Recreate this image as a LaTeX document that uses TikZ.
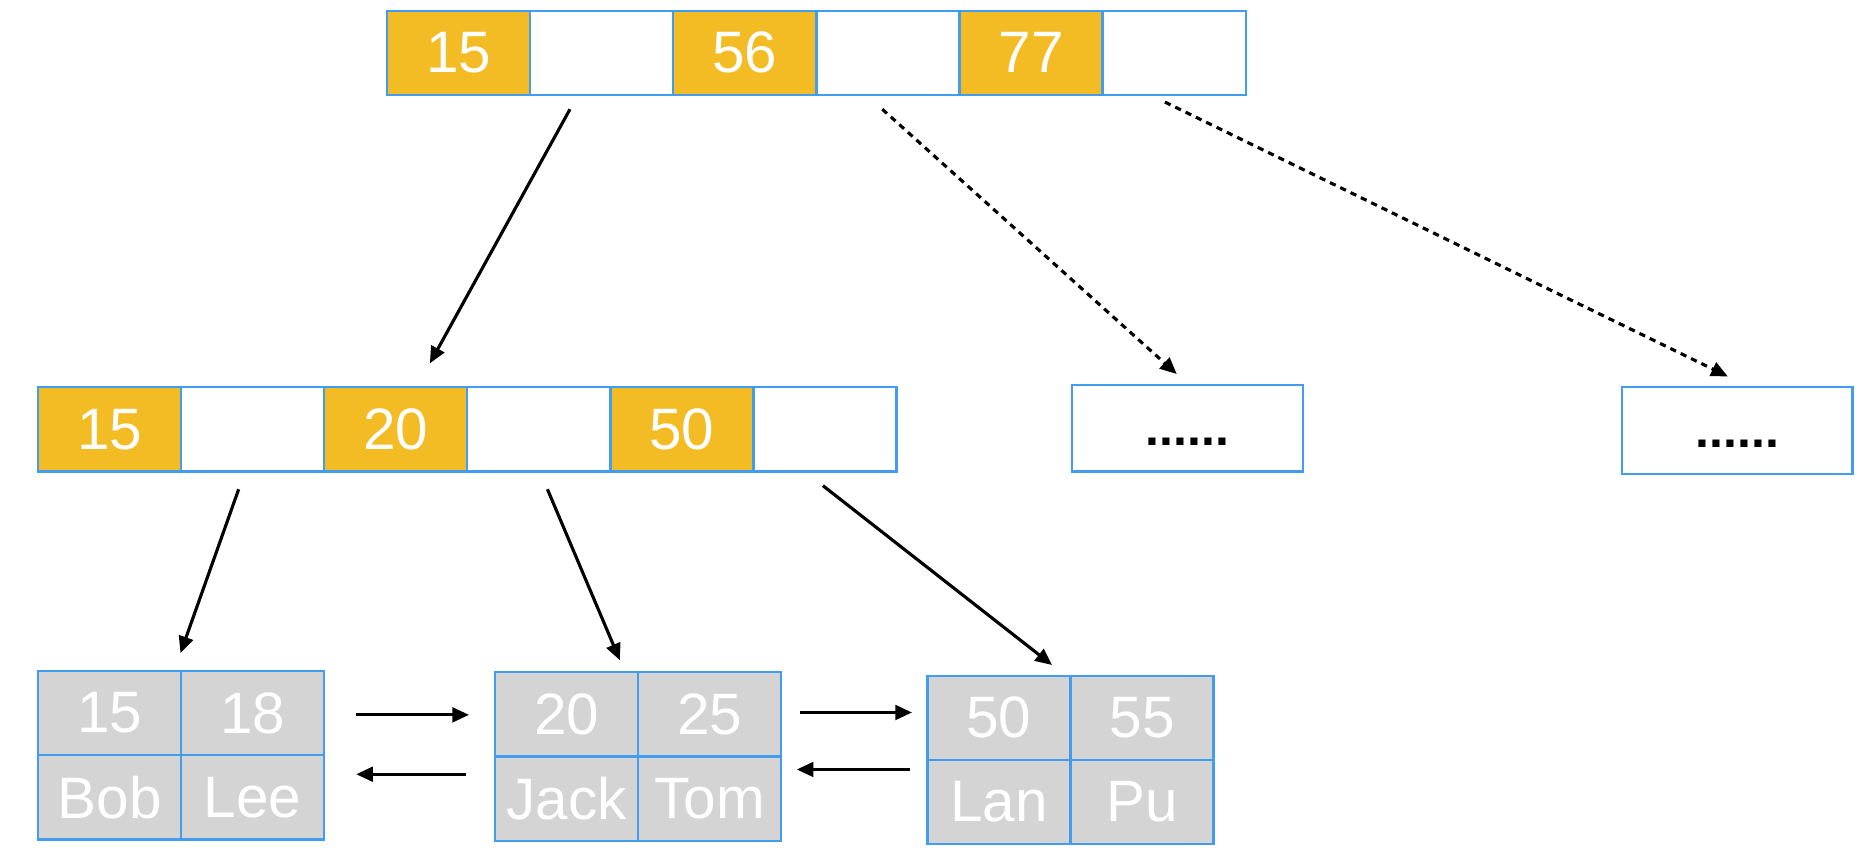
\documentclass[tikz,border=0pt]{standalone}
\usepackage{fontspec}
\setmainfont{Liberation Sans}
\usetikzlibrary{arrows.meta,positioning}

\definecolor{keyorange}{RGB}{243,188,36}
\definecolor{cellblue}{RGB}{66,157,240}
\definecolor{leafgray}{RGB}{212,212,212}

\tikzset{
    cell/.style={draw=cellblue, line width=1.1pt, minimum width=2.41cm, minimum height=1.42cm,
        inner sep=0pt, outer sep=0pt, text=white, font=\fontsize{28}{30}\selectfont},
    keycell/.style={cell, fill=keyorange},
    ptrcell/.style={cell, fill=white},
    leafcell/.style={cell, fill=leafgray},
    leafbox/.style={minimum width=4.82cm, minimum height=2.84cm, inner sep=0pt, outer sep=0pt},
    morebox/.style={draw=cellblue, line width=1.1pt, minimum width=3.88cm, minimum height=1.46cm,
        inner sep=0pt, outer sep=0pt, font=\fontsize{24}{26}\selectfont\bfseries},
    link/.style={line width=1.5pt, -{Triangle[length=8pt,width=7pt]}},
    maybe/.style={link, dash pattern=on 3pt off 2.5pt}
}

\begin{document}
\begin{tikzpicture}[x=0.02cm, y=-0.02cm]
    \useasboundingbox (0,0) rectangle (1568,726);

    % Root node
    \foreach \i/\t/\s in {1/15/keycell, 2/{}/ptrcell, 3/56/keycell, 4/{}/ptrcell, 5/77/keycell, 6/{}/ptrcell}
        \node[\s, anchor=north west] (root\i) at ({326+120.5*(\i-1)},9) {\t};

    % Inner node
    \foreach \i/\t/\s in {1/15/keycell, 2/{}/ptrcell, 3/20/keycell, 4/{}/ptrcell, 5/50/keycell, 6/{}/ptrcell}
        \node[\s, anchor=north west] (mid\i) at ({32+120.5*(\i-1)},326) {\t};

    % Other inner nodes
    \node[morebox, anchor=north west] (more1) at (903,324) {\vphantom{0}......};
    \node[morebox, anchor=north west] (more2) at (1366,326) {\vphantom{0}......};

    % Leaves
    \foreach \n/\x/\y/\a/\b/\c/\d in {A/32/565/15/18/Bob/Lee, B/417/566/20/25/Jack/Tom, C/781/569/50/55/Lan/Pu} {
        \node[leafbox, anchor=north west] (leaf\n) at (\x,\y) {};
        \node[leafcell, anchor=north west] (leaf\n-k1) at (leaf\n.north west) {\a};
        \node[leafcell, anchor=north west] (leaf\n-k2) at (leaf\n-k1.north east) {\b};
        \node[leafcell, anchor=north west] (leaf\n-v1) at (leaf\n-k1.south west) {\c};
        \node[leafcell, anchor=north west] (leaf\n-v2) at (leaf\n-v1.north east) {\d};
    }

    % Root to inner
    \draw[link] ([shift={(-26.75,12)}]root2.south) -- ([shift={(28.75,-20)}]mid3.north);
    \draw[maybe] ([shift={(-4.75,12)}]root4.south) -- ([shift={(-9,-9)}]more1.north);
    \draw[maybe] ([shift={(-7.75,6)}]root6.south) -- ([shift={(-8,-9)}]more2.north);

    % Inner to leaves
    \draw[link] ([shift={(-11.75,15)}]mid2.south) -- ([shift={(-0.5,-15)}]leafA.north);
    \draw[link] ([shift={(7.25,15)}]mid4.south) -- ([shift={(-15.5,-10)}]leafB.north);
    \draw[link] ([shift={(-1.75,12)}]mid6.south) -- ([shift={(-15.5,-9)}]leafC.north);

    % Leaf links
    \draw[link] ([shift={(27,-34)}]leafA.east) -- ([shift={(-22,-35)}]leafB.west);
    \draw[link] ([shift={(-25,15)}]leafB.west) -- ([shift={(27,16)}]leafA.east);
    \draw[link] ([shift={(16,-37)}]leafB.east) -- ([shift={(-13,-40)}]leafC.west);
    \draw[link] ([shift={(-15,8)}]leafC.west) -- ([shift={(13,11)}]leafB.east);
\end{tikzpicture}
\end{document}
